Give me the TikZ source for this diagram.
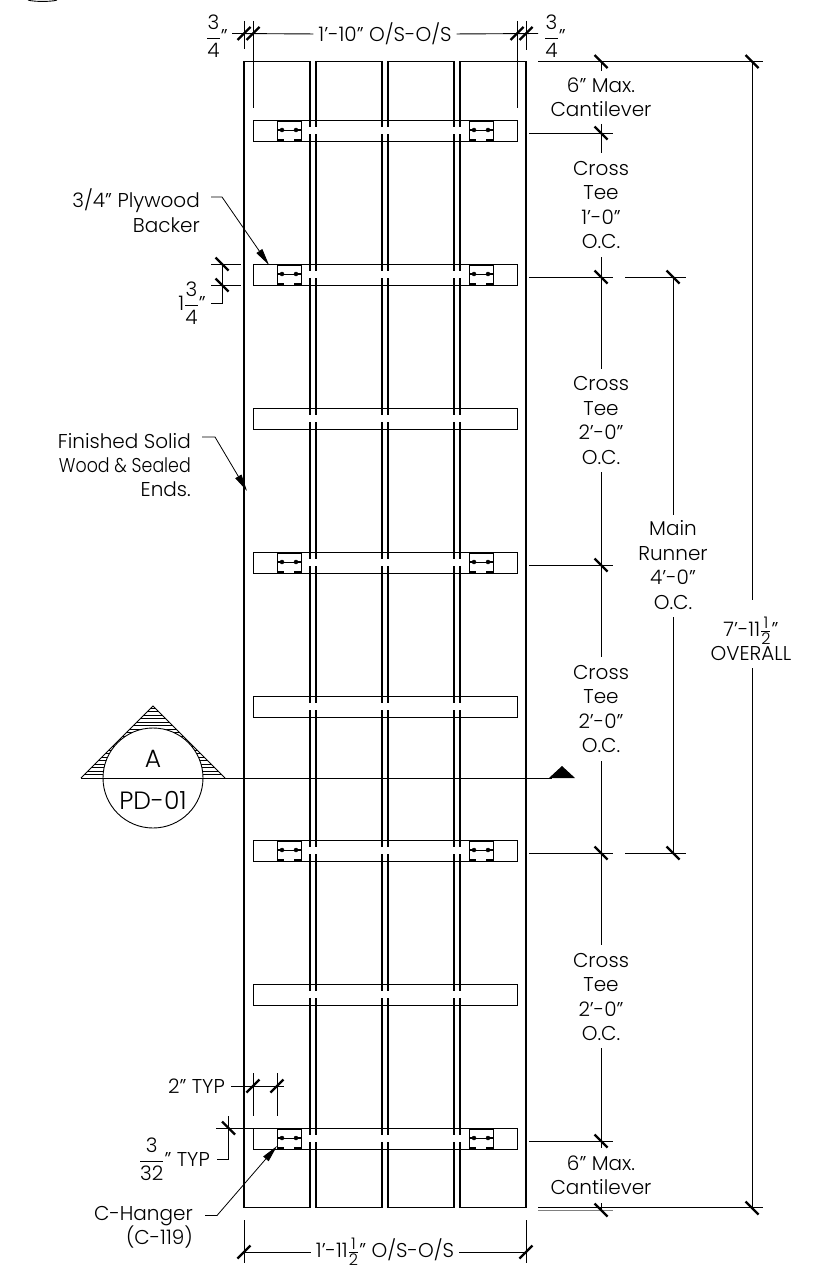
\documentclass[tikz,border=0pt]{standalone}
\usepackage{amsmath}
\usepackage{fontspec}
\setmainfont{Poppins Light}
\usetikzlibrary{arrows.meta}
\tikzset{
	plank/.style={line width=1.8pt},
	thin line/.style={line width=0.9pt},
	dimtick/.style={line width=2.2pt},
	label text/.style={font=\fontsize{20}{24.4}\selectfont, inner sep=0pt, align=center},
	section text/.style={font=\fontsize{25}{30}\selectfont, inner sep=0pt},
	leader/.style={line width=0.8pt, -{Triangle[length=17pt,width=7pt]}},
}
\newcommand{\tickup}[2]{\draw[dimtick] (#1-6.5,#2+6.5) -- (#1+6.5,#2-6.5);}
\newcommand{\tickdown}[2]{\draw[dimtick] (#1-6.5,#2-6.5) -- (#1+6.5,#2+6.5);}
\newcommand{\halfmark}{$\frac{\text{\fontsize{16}{16}\selectfont 1}}{\text{\fontsize{16}{16}\selectfont 2}}$}
\begin{document}
\begin{tikzpicture}[x=1pt,y=-1pt]
	\useasboundingbox (0,0) rectangle (817,1268);

	\draw[thin line] (28,0) arc[start angle=196.8, end angle=343.2, x radius=15.2pt, y radius=2pt];

	\foreach \x in {244,316,388,460}
	{
		\draw[plank] (\x,61.5) rectangle (\x+66,1207.5);
	}

	\foreach \y in {120,264,408,552,696,840,984,1128}
	{
		\draw[thin line] (253,\y) rectangle (517,\y+21);
		\foreach \x in {308,380,452}
		{
			\fill[white] (\x,\y+7) rectangle (\x+10,\y+14);
		}
	}

	\foreach \y in {120,264,552,840,1128}
	{
		\foreach \x in {277,469}
		{
			\draw[thin line] (\x,\y+1) rectangle (\x+24,\y+21);
			\draw[thin line] (\x,\y+10) -- (\x+24,\y+10);
			\filldraw (\x+5,\y+10) circle (2pt);
			\filldraw (\x+19,\y+10) circle (2pt);
			\draw[plank] (\x,\y+10) -- (\x+5,\y+10);
			\draw[plank] (\x+19,\y+10) -- (\x+24,\y+10);
			\draw[plank] (\x,\y+20) -- (\x+7,\y+20);
			\draw[plank] (\x+17,\y+20) -- (\x+24,\y+20);
		}
	}

	% top width
	\node[label text] (topwidth) at (385,34) {1'-10" O/S-O/S};
	\node[label text] (topleft) at (217,36) {$\dfrac{\text{3}}{\text{4}}$"};
	\node[label text] (topright) at (555,36) {$\dfrac{\text{3}}{\text{4}}$"};
	\draw[thin line, shorten >=5pt] (232,33.5) -- (topwidth.west);
	\draw[thin line, shorten <=5pt] (topwidth.east) -- (538,33.5);
	\draw[thin line] (244,21) -- (244,49);
	\draw[thin line] (253,21) -- (253,108);
	\draw[thin line] (517,21) -- (517,108);
	\draw[thin line] (526,21) -- (526,50);
	\tickup{244}{33.5}
	\tickup{253}{33.5}
	\tickup{517}{33.5}
	\tickup{526}{33.5}

	% right stack
	\draw[thin line] (538,61.5) -- (763,61.5);
	\draw[thin line] (529,133) -- (613,133);
	\draw[thin line] (529,277) -- (613,277);
	\draw[thin line] (625,277) -- (686,277);
	\draw[thin line] (529,565) -- (613,565);
	\draw[thin line] (529,853) -- (613,853);
	\draw[thin line] (625,853) -- (686,853);
	\draw[thin line] (529,1141) -- (613,1141);
	\draw[thin line] (601,1207.5) -- (763,1207.5);
	\draw[thin line] (538,1207.5) -- (613,1207.5);
	\draw[thin line, gray] (538,1210) -- (613,1210);

	\node[label text] (capA) at (601,97.5) {6" Max.\\Cantilever};
	\node[label text] (teeA) at (601,205) {Cross\\Tee\\1'-0"\\O.C.};
	\node[label text] (teeB) at (601,420.5) {Cross\\Tee\\2'-0"\\O.C.};
	\node[label text] (teeC) at (601,709) {Cross\\Tee\\2'-0"\\O.C.};
	\node[label text] (teeD) at (601,997) {Cross\\Tee\\2'-0"\\O.C.};
	\node[label text] (capB) at (601,1175.5) {6" Max.\\Cantilever};
	\node[label text] (runner) at (673,565) {Main\\Runner\\4'-0"\\O.C.};
	\node[label text] (overall) at (751,639) {7'-11\halfmark"\\OVERALL};

	\draw[thin line] (601,61.5) -- (601,71);
	\draw[thin line] (601,124) -- (601,153);
	\draw[thin line] (601,257) -- (601,369);
	\draw[thin line] (601,472) -- (601,657);
	\draw[thin line] (601,761) -- (601,945);
	\draw[thin line] (601,1048) -- (601,1148);
	\draw[thin line] (601,1203) -- (601,1210);
	\draw[thin line] (673,277) -- (673,515);
	\draw[thin line] (673,617) -- (673,853);
	\draw[thin line] (752,61.5) -- (752,600);
	\draw[thin line] (752,668) -- (752,1207.5);

	\foreach \y in {61.5,133,277,565,853,1141,1210}
	{
		\tickdown{601}{\y}
	}
	\tickdown{752}{61.5}
	\tickdown{752}{1208}
	\tickdown{673}{277}
	\tickdown{673}{853}

	% left labels
	\node[label text, anchor=east, align=right] (backer) at (200,210.5) {3/4" Plywood\\Backer};
	\coordinate (backerA) at (211,197);
	\coordinate (backerB) at (222,197);
	\coordinate (backerC) at (269,265);
	\draw[leader] (backerA) -- (backerB) -- (backerC);

	\draw[thin line] (211,264) -- (241,264);
	\draw[thin line] (211,285) -- (241,285);
	\draw[thin line] (211,303) -- (222,303) -- (222,264);
	\tickdown{222}{264}
	\tickdown{222}{285}
	\node[label text] (thick) at (192,303) {1$\dfrac{\text{3}}{\text{4}}$"};

	\node[label text, anchor=east, align=right] (ends) at (191,465) {Finished Solid\\\scalebox{0.87}[1]{Wood \& Sealed}\\Ends.};
	\coordinate (endsA) at (202,437);
	\coordinate (endsB) at (215,437);
	\coordinate (endsC) at (247,491);
	\draw[leader] (endsA) -- (endsB) -- (endsC);

	% section mark
	\begin{scope}
		\clip (153,706) -- (225,778) -- (81,778) -- cycle;
		\foreach \y in {708,711.5,...,778}
		{
			\draw[line width=0.5pt] (81,\y) -- (225,\y);
		}
	\end{scope}
	\draw[thin line] (81,778) -- (153,706) -- (225,778);
	\node[circle, draw, fill=white, line width=0.9pt, minimum size=100pt, inner sep=0pt] (section) at (153,778) {};
	\draw[thin line] (81,778) -- (552,778);
	\fill (549,778) -- (562,766) -- (575,778) -- cycle;
	\node[section text] (secA) at (153,759) {A};
	\node[section text] (secB) at (153,800) {PD-01};

	% bottom
	\node[label text] (botwidth) at (385,1252) {1'-11\halfmark" O/S-O/S};
	\draw[thin line, shorten >=5pt] (244,1252) -- (botwidth.west);
	\draw[thin line, shorten <=5pt] (botwidth.east) -- (526,1252);
	\draw[thin line] (244,1220) -- (244,1263);
	\draw[thin line] (526,1220) -- (526,1263);
	\tickup{244}{1252}
	\tickup{526}{1252}

	\node[label text, anchor=east] (typ) at (225,1086) {2" TYP};
	\draw[thin line] (typ.east) ++(6,0) -- (284,1086);
	\draw[thin line] (253,1073) -- (253,1116);
	\draw[thin line] (277,1073) -- (277,1116);
	\tickup{253}{1086}
	\tickup{277}{1086}

	\node[label text, anchor=east] (typB) at (210,1159) {$\dfrac{\text{3}}{\text{32}}$" TYP};
	\draw[thin line] (216,1128) -- (265,1128);
	\draw[thin line] (217,1159) -- (228.5,1159) -- (228.5,1116);
	\tickdown{228.5}{1128}

	\node[label text, anchor=east, align=right] (hanger) at (193,1227.5) {C-Hanger\\(C-119)};
	\coordinate (hangerA) at (205,1215.5);
	\coordinate (hangerB) at (217,1215.5);
	\coordinate (hangerC) at (277,1146);
	\draw[leader] (hangerA) -- (hangerB) -- (hangerC);
\end{tikzpicture}
\end{document}
